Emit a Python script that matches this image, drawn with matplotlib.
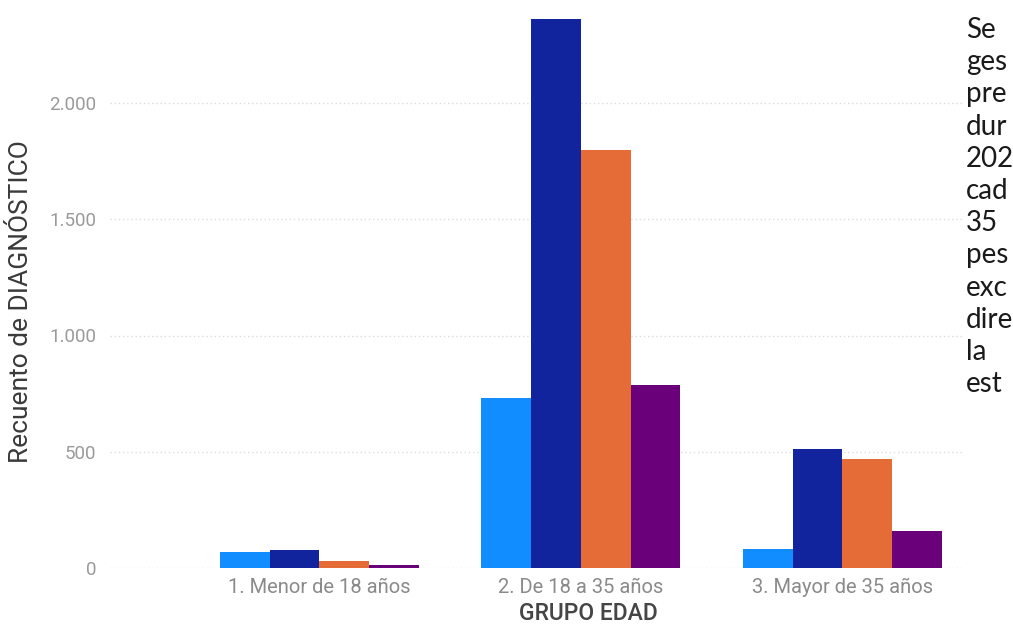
import matplotlib
matplotlib.use("Agg")
import matplotlib.pyplot as plt
import numpy as np

# Age groups and diagnosis counts per series
grupos = ["1. Menor de 18 años", "2. De 18 a 35 años", "3. Mayor de 35 años"]
serie_1 = [70, 731, 80]
serie_2 = [78, 2360, 513]
serie_3 = [29, 1800, 470]
serie_4 = [12, 787, 160]
colores = ["#118DFF", "#12239E", "#E66C37", "#6B007B"]
yticks = [0, 500, 1000, 1500, 2000]
ytick_labels = ["0", "500", "1.000", "1.500", "2.000"]

# Side note column
texto_lateral = ["Se", "ges", "pre", "dur", "202", "cad", "35", "pes", "exc",
                 "dire", "la", "est"]

W, H = 1013, 628
fig = plt.figure(figsize=(W / 100, H / 100), dpi=100)
fig.patch.set_facecolor("white")

left, right, bottom_px, top_px = 110, 962, 568, 10
ax = fig.add_axes([left / W, (H - bottom_px) / H, (right - left) / W,
                   (bottom_px - top_px) / H])

x = np.arange(len(grupos))
ancho = 0.19
series = [serie_1, serie_2, serie_3, serie_4]
for i, (vals, c) in enumerate(zip(series, colores)):
    ax.bar(x + (i - 1.5) * ancho, vals, width=ancho, color=c, zorder=3,
           linewidth=0)

ax.set_ylim(0, 2400)
ax.set_xlim(-0.8, 2.457)
ax.set_yticks(yticks)
ax.set_yticklabels(ytick_labels)
ax.set_xticks(x)
ax.set_xticklabels(grupos)

fuente = ["Roboto", "DejaVu Sans"]
for lab in ax.get_yticklabels():
    lab.set_fontfamily(fuente)
    lab.set_fontsize(13.5)
    lab.set_color("#9a9a9a")
for lab in ax.get_xticklabels():
    lab.set_fontfamily(fuente)
    lab.set_fontsize(14.5)
    lab.set_color("#8a8a8a")

ax.tick_params(axis="y", length=0, pad=10)
ax.tick_params(axis="x", length=0, pad=7)
for s in ax.spines.values():
    s.set_visible(False)
ax.grid(axis="y", color="#dcdcdc", linestyle=(0, (1, 2)), linewidth=1, zorder=0)
ax.set_axisbelow(True)

fig.text(21 / W, 1 - 302 / H, "Recuento de DIAGNÓSTICO", rotation=90,
         ha="center", va="center", fontsize=19, color="#3a3a3a",
         family=fuente)
fig.text(588 / W, 1 - 614 / H, "GRUPO EDAD", ha="center", va="center",
         fontsize=16.5, color="#454545", family=fuente, weight="medium")

for k, linea in enumerate(texto_lateral):
    fig.text(966 / W, 1 - (30 + k * 32.2) / H, linea, ha="left", va="center",
             fontsize=20, color="#1a1a1a", family=["Lato", "DejaVu Sans"])

fig.savefig("out.png", dpi=100, facecolor="white")
